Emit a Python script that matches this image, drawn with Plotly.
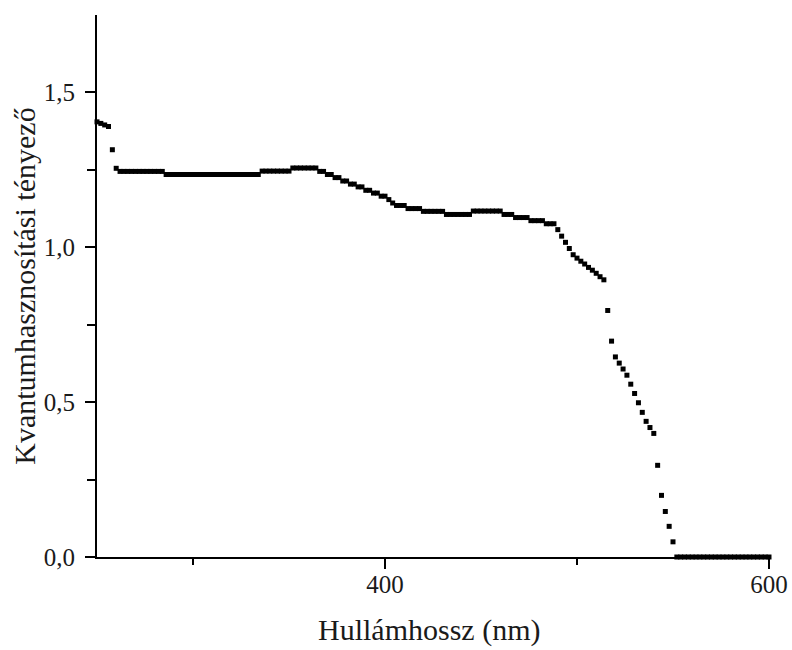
import plotly.graph_objects as go

# Wavelength grid (nm) and quantum-utilisation factor values
wavelength = [
    250, 252, 254, 256, 258, 260, 262, 264, 266, 268, 270, 272, 274, 276, 278, 280,
    282, 284, 286, 288, 290, 292, 294, 296, 298, 300, 302, 304, 306, 308, 310, 312,
    314, 316, 318, 320, 322, 324, 326, 328, 330, 332, 334, 336, 338, 340, 342, 344,
    346, 348, 350, 352, 354, 356, 358, 360, 362, 364, 366, 368, 370, 372, 374, 376,
    378, 380, 382, 384, 386, 388, 390, 392, 394, 396, 398, 400, 402, 404, 406, 408,
    410, 412, 414, 416, 418, 420, 422, 424, 426, 428, 430, 432, 434, 436, 438, 440,
    442, 444, 446, 448, 450, 452, 454, 456, 458, 460, 462, 464, 466, 468, 470, 472,
    474, 476, 478, 480, 482, 484, 486, 488, 490, 492, 494, 496, 498, 500, 502, 504,
    506, 508, 510, 512, 514, 516, 518, 520, 522, 524, 526, 528, 530, 532, 534, 536,
    538, 540, 542, 544, 546, 548, 550, 552, 554, 556, 558, 560, 562, 564, 566, 568,
    570, 572, 574, 576, 578, 580, 582, 584, 586, 588, 590, 592, 594, 596, 598, 600,
]

factor = [
    1.405, 1.400, 1.395, 1.390, 1.315, 1.255,
    1.245, 1.245, 1.245, 1.245, 1.245, 1.245, 1.245, 1.245, 1.245, 1.245, 1.245, 1.245,
    1.235, 1.235, 1.235, 1.235, 1.235, 1.235, 1.235, 1.235, 1.235, 1.235, 1.235, 1.235,
    1.235, 1.235, 1.235, 1.235, 1.235, 1.235, 1.235, 1.235, 1.235, 1.235, 1.235, 1.235,
    1.235,
    1.246, 1.246, 1.246, 1.246, 1.246, 1.246, 1.246, 1.246,
    1.256, 1.256, 1.256, 1.256, 1.256, 1.256, 1.256,
    1.245, 1.245, 1.235, 1.235, 1.225, 1.225, 1.214, 1.214, 1.204, 1.204,
    1.195, 1.195, 1.184, 1.184, 1.175, 1.175, 1.165, 1.165,
    1.154, 1.143, 1.135, 1.135, 1.135,
    1.125, 1.125, 1.125, 1.125,
    1.116, 1.116, 1.116, 1.116, 1.116, 1.116,
    1.106, 1.106, 1.106, 1.106, 1.106, 1.106, 1.106,
    1.117, 1.117, 1.117, 1.117, 1.117, 1.117, 1.117, 1.117,
    1.106, 1.106, 1.106,
    1.096, 1.096, 1.096, 1.096,
    1.086, 1.086, 1.086, 1.086,
    1.076, 1.076, 1.076,
    1.057, 1.036, 1.016, 0.996, 0.976, 0.965, 0.955, 0.946, 0.935, 0.926,
    0.916, 0.905, 0.895, 0.796, 0.697, 0.646, 0.626, 0.607, 0.587, 0.558,
    0.528, 0.498, 0.467, 0.438, 0.418, 0.399, 0.296, 0.199, 0.147, 0.099, 0.049,
    0.0, 0.0, 0.0, 0.0, 0.0, 0.0, 0.0, 0.0, 0.0, 0.0, 0.0, 0.0, 0.0,
    0.0, 0.0, 0.0, 0.0, 0.0, 0.0, 0.0, 0.0, 0.0, 0.0, 0.0, 0.0,
]

x_major = [400, 600]
x_minor = [300, 500]
y_major = [0.0, 0.5, 1.0, 1.5]
y_major_text = ["0,0", "0,5", "1,0", "1,5"]
y_minor = [0.25, 0.75, 1.25]

x_title = "Hullámhossz (nm)"
y_title = "Kvantumhasznosítási tényező"

FONT = "Liberation Serif"

fig = go.Figure()
fig.add_trace(go.Scatter(
    x=wavelength, y=factor, mode="markers",
    marker=dict(symbol="square", size=5, color="black", line=dict(width=0)),
    cliponaxis=False, showlegend=False,
))

fig.update_layout(
    width=792, height=650,
    margin=dict(l=97, r=23, t=15, b=93),
    paper_bgcolor="white", plot_bgcolor="white",
    font=dict(family=FONT, size=25, color="#1a1a1a"),
    xaxis=dict(
        range=[250, 600], showgrid=False, zeroline=False, automargin=False,
        showline=True, linecolor="black", linewidth=2,
        ticks="outside", ticklen=10, tickwidth=2, tickcolor="black",
        tickvals=x_major, ticktext=[str(v) for v in x_major],
        minor=dict(tickvals=x_minor, ticks="outside", ticklen=6, tickwidth=2, tickcolor="black"),
        ticklabelstandoff=-6,
    ),
    yaxis=dict(
        range=[0, 1.75], showgrid=False, zeroline=False, automargin=False,
        showline=True, linecolor="black", linewidth=2,
        ticks="outside", ticklen=10, tickwidth=2, tickcolor="black",
        tickvals=y_major, ticktext=y_major_text,
        minor=dict(tickvals=y_minor, ticks="outside", ticklen=8, tickwidth=2, tickcolor="black"),
        ticklabelstandoff=5,
    ),
    annotations=[
        dict(text=x_title, xref="paper", yref="paper", x=0.494, y=-0.1347,
             xanchor="center", yanchor="middle", showarrow=False,
             font=dict(family=FONT, size=30, color="#1a1a1a")),
        dict(text=y_title, xref="paper", yref="paper", x=-0.109, y=0.5,
             xanchor="center", yanchor="middle", showarrow=False, textangle=-90,
             font=dict(family=FONT, size=30, color="#1a1a1a")),
    ],
)

fig.write_html("out.html")
